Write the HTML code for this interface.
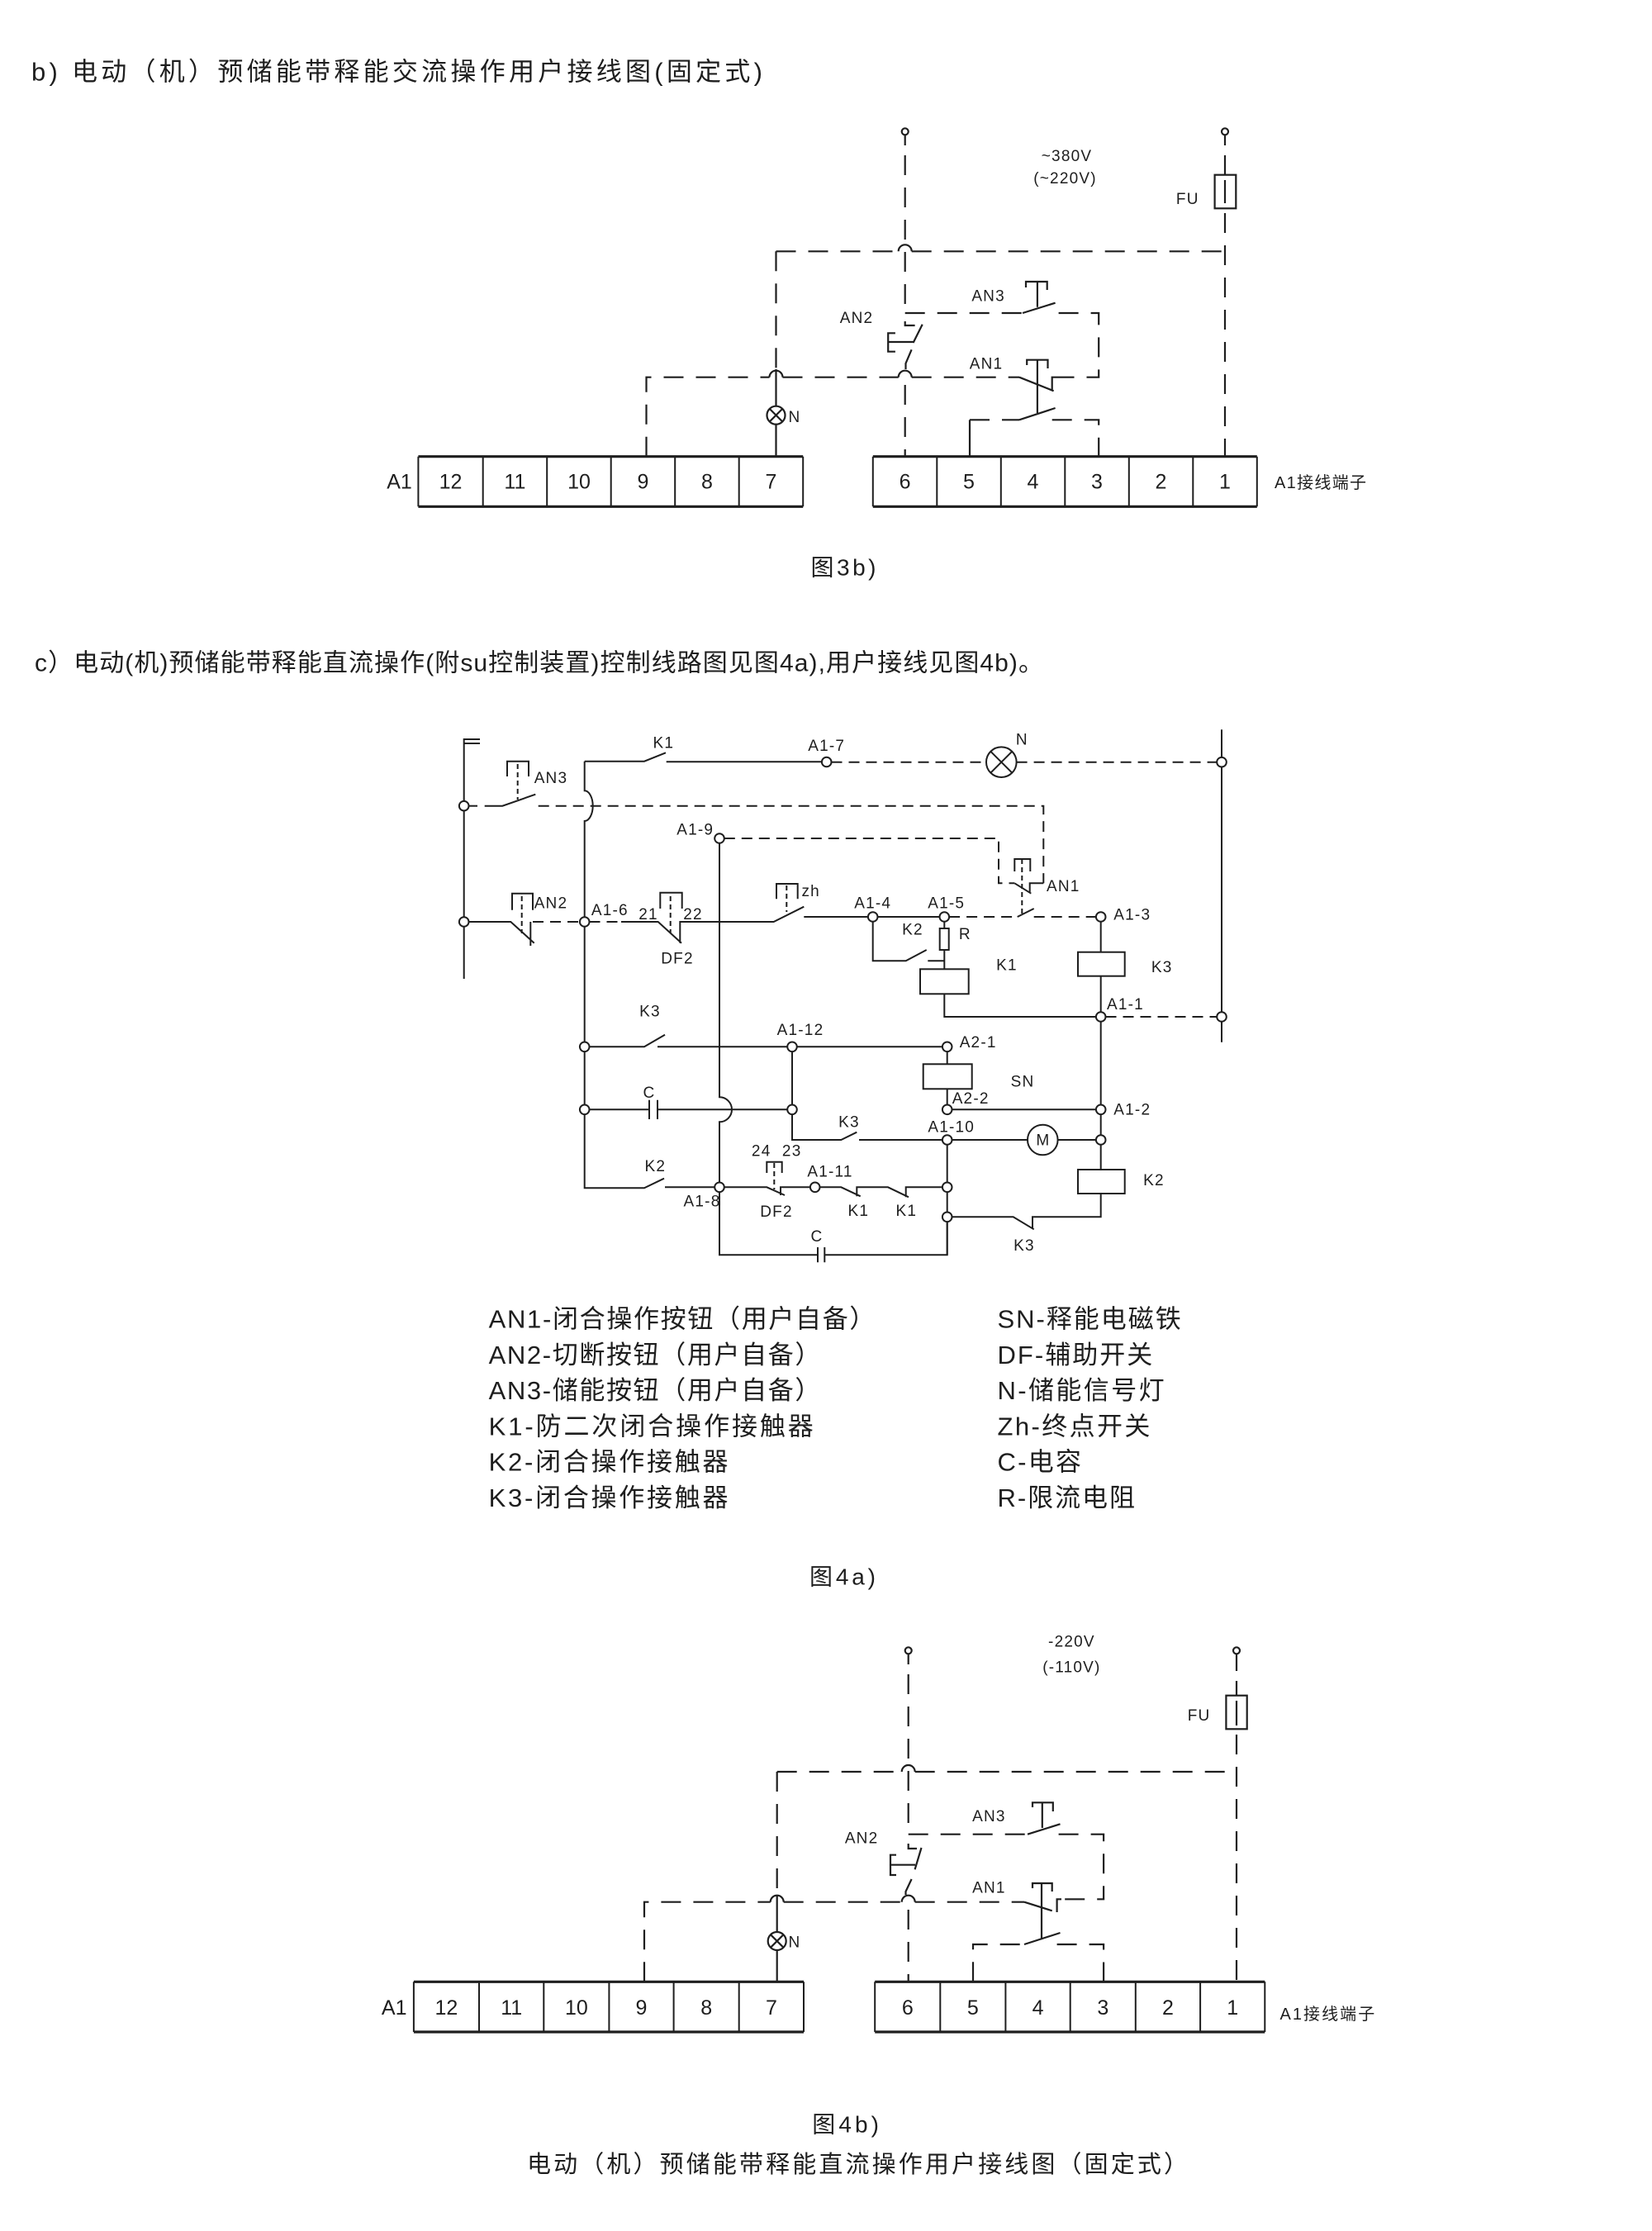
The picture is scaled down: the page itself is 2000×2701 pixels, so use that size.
<!DOCTYPE html>
<html><head><meta charset="utf-8">
<style>
html,body{margin:0;padding:0;background:#fff}
svg{display:block}
text{font-family:"Liberation Sans","Noto Sans CJK SC",sans-serif;fill:#1e1e1e}
.l{stroke:#1e1e1e;stroke-width:2.2;fill:none}
.l4{stroke:#1e1e1e;stroke-width:2;fill:none}
.d1{stroke-dasharray:24 15}
.d2{stroke-dasharray:13 8}
.ds{stroke-dasharray:6 4}
.n{fill:#fff;stroke:#1e1e1e;stroke-width:2}
.tb{stroke:#1e1e1e;stroke-width:3.2;fill:none}
.tv{stroke:#1e1e1e;stroke-width:2;fill:none}
.lab{font-size:19px;letter-spacing:1.2px}
.num{font-size:25px}
</style></head><body>
<svg width="2000" height="2701" viewBox="0 0 2000 2701" xmlns="http://www.w3.org/2000/svg">

<!-- ===== Titles ===== -->
<text x="38" y="87" font-size="31" dominant-baseline="central" textLength="885" lengthAdjust="spacing">b) 电动（机）预储能带释能交流操作用户接线图(固定式)</text>
<text x="42" y="803" font-size="30" dominant-baseline="central" textLength="1221" lengthAdjust="spacing">c）电动(机)预储能带释能直流操作(附su控制装置)控制线路图见图4a),用户接线见图4b)。</text>

<!-- ===== Fig 3b ===== -->
<g class="l">
<circle cx="1095.7" cy="159.3" r="4"/>
<path d="M1095.7 163.3V176"/>
<path class="d1" d="M1095.7 188V379"/>
<path class="d1" d="M1095.7 379H1238"/>
<path d="M1238 379L1277.6 366.7"/>
<path class="d1" d="M1281.6 379H1330.2V456.7H1285"/>
<path d="M1242 348V341H1267.7V351M1255.9 341V371.7"/>
<path d="M1095.7 389V394H1107.6M1116.7 392.7L1105.6 415M1075.2 414H1106M1083.9 403.3H1075.2V425.7H1083.9M1103.6 423.3L1096.5 440V447"/>
<path class="d1" d="M1095.7 466V552.7"/>
<path class="d1" d="M782.5 552.7V456.7H931.5"/>
<path class="d1" d="M947.5 456.7H1087.7"/>
<path class="d1" d="M1103.7 456.7H1234"/>
<path d="M931.5 456.7A8 8 0 0 1 947.5 456.7M1087.7 456.7A8 8 0 0 1 1103.7 456.7"/>
<path d="M1234 456.7L1275.6 473.3M1285 456.7H1273.7V473.3"/>
<path d="M1243.2 442V435.7H1268.5V446M1255.9 435.7V500"/>
<path d="M1174 552.7V508.3"/>
<path class="d1" d="M1174 508.3H1234"/>
<path d="M1234 508.3L1277.6 494"/>
<path class="d1" d="M1273.7 508.3H1330.2V552.7"/>
<path class="d1" d="M939.5 304.3V447"/>
<path d="M939.5 447V491.7"/>
<circle cx="939.5" cy="502.7" r="11"/>
<path d="M931.7 494.9L947.3 510.5M947.3 494.9L931.7 510.5M939.5 513.7V552.7"/>
<path class="d1" d="M939.5 304.3H1087.7"/>
<path d="M1087.7 304.3A8 8 0 0 1 1103.7 304.3"/>
<path class="d1" d="M1103.7 304.3H1483"/>
<circle cx="1483" cy="159.3" r="4"/>
<path d="M1483 163.3V176"/>
<path class="d1" d="M1483 188V211.7"/>
<rect x="1470.6" y="211.7" width="25.7" height="40.6"/>
<path d="M1483 218V246"/>
<path class="d1" d="M1483 258V552.7"/>
</g>
<g>
<text class="lab" x="1291.5" y="189.3" text-anchor="middle" dominant-baseline="central">~380V</text>
<text class="lab" x="1289.5" y="216.7" text-anchor="middle" dominant-baseline="central">(~220V)</text>
<text class="lab" x="1437.8" y="241.7" text-anchor="middle" dominant-baseline="central">FU</text>
<text class="lab" x="1196.6" y="359" text-anchor="middle" dominant-baseline="central">AN3</text>
<text class="lab" x="1037" y="385.7" text-anchor="middle" dominant-baseline="central">AN2</text>
<text class="lab" x="1194" y="441" text-anchor="middle" dominant-baseline="central">AN1</text>
<text class="lab" x="962" y="505.7" text-anchor="middle" dominant-baseline="central">N</text>
</g>
<path class="tb" d="M506.4 552.7H972.2M506.4 613.3H972.2M1056.8 552.7H1521.8M1056.8 613.3H1521.8"/>
<path class="tv" d="M506.4 552.7V613.3M584.7 552.7V613.3M662.2 552.7V613.3M739.7 552.7V613.3M817.2 552.7V613.3M894.7 552.7V613.3M972.2 552.7V613.3M1056.8 552.7V613.3M1134.3 552.7V613.3M1211.8 552.7V613.3M1289.3 552.7V613.3M1366.8 552.7V613.3M1444.3 552.7V613.3M1521.8 552.7V613.3"/>
<g>
<text x="483.5" y="583.3" class="num" text-anchor="middle" dominant-baseline="central">A1</text>
<text x="545.5" y="583.3" class="num" text-anchor="middle" dominant-baseline="central">12</text>
<text x="623.4" y="583.3" class="num" text-anchor="middle" dominant-baseline="central">11</text>
<text x="701" y="583.3" class="num" text-anchor="middle" dominant-baseline="central">10</text>
<text x="778.5" y="583.3" class="num" text-anchor="middle" dominant-baseline="central">9</text>
<text x="856" y="583.3" class="num" text-anchor="middle" dominant-baseline="central">8</text>
<text x="933.5" y="583.3" class="num" text-anchor="middle" dominant-baseline="central">7</text>
<text x="1095.6" y="583.3" class="num" text-anchor="middle" dominant-baseline="central">6</text>
<text x="1173" y="583.3" class="num" text-anchor="middle" dominant-baseline="central">5</text>
<text x="1250.5" y="583.3" class="num" text-anchor="middle" dominant-baseline="central">4</text>
<text x="1328" y="583.3" class="num" text-anchor="middle" dominant-baseline="central">3</text>
<text x="1405.5" y="583.3" class="num" text-anchor="middle" dominant-baseline="central">2</text>
<text x="1483" y="583.3" class="num" text-anchor="middle" dominant-baseline="central">1</text>
</g>
<text x="1543" y="585" font-size="20" dominant-baseline="central" textLength="111" lengthAdjust="spacing">A1接线端子</text>
<text x="1021" y="687" font-size="28" text-anchor="middle" dominant-baseline="central" textLength="79" lengthAdjust="spacing">图3b)</text>

<!-- ===== Fig 4a ===== -->
<g class="l4">
<path d="M561.7 894V1185M561.7 895H581M561.7 900H581"/>
<path class="d2" d="M567.5 975.7H578"/>
<path d="M586.7 975.7H608.3L648.3 961.7"/>
<path d="M614 940V921.7H640V940"/>
<path class="ds" d="M626.7 925V968"/>
<path class="d2" d="M651.7 975.7H1263.3V1069.3"/>
<path d="M1263.3 1069.3H1246.7V1080"/>
<path d="M707.7 921.7H780L806 911.3M806.7 922.3H995"/>
<path d="M707.7 921.7V957.3A10 18.35 0 0 1 707.7 994V1438.3H780L804 1426.7M805 1437.3H865"/>
<path class="d2" d="M1006.5 922.7H1194"/>
<circle cx="1212.3" cy="922.7" r="18.3"/>
<path d="M1199.4 909.8L1225.2 935.6M1225.2 909.8L1199.4 935.6"/>
<path class="d2" d="M1230.6 922.7H1473.2"/>
<path d="M1479 883.3V1261.7"/>
<path class="d2" d="M876.8 1015H1209V1069.3H1228.3"/>
<path d="M1228.3 1069.3L1248.3 1081.7"/>
<path d="M871 1020.8V1328.3A15 15 0 0 1 871 1358.3V1431.5M871 1443V1519.3H990M990 1510V1528.3M998.3 1510V1528.3M998.3 1519.3H1146.7V1479"/>
<path d="M1228.3 1055V1040H1247.3V1055"/>
<path class="ds" d="M1237.3 1040V1108"/>
<path d="M567.5 1116H618.3L646.7 1141.7M642.3 1116V1145"/>
<path class="d2" d="M645 1116H701.9"/>
<path d="M620 1101.7V1081.7H645V1101.7"/>
<path class="ds" d="M631.7 1085V1130"/>
<path class="d2" d="M713.5 1116H752"/>
<path d="M752 1116H796.7L825 1141.7M823.3 1141.7V1116H936.7L973.3 1097.7M973.3 1110H1050.9"/>
<path d="M799.3 1100V1080.7H825.7V1100"/>
<path class="ds" d="M811.7 1085V1130"/>
<path d="M940 1088.3V1070H965.7V1088.3"/>
<path class="ds" d="M952.3 1072V1104"/>
<path d="M1062.5 1110H1137.5"/>
<path class="d2" d="M1149.1 1110H1231.7"/>
<path d="M1231.7 1110L1251.7 1100"/>
<path class="d2" d="M1251.7 1110H1326.9"/>
<path d="M1056.7 1115.8V1163.3H1096.7L1121.7 1150M1123.3 1163.3H1143.3"/>
<path d="M1143.3 1115.8V1124M1143.3 1150V1173.3M1143.3 1203.3V1231H1326.9"/>
<rect x="1137.7" y="1124" width="11" height="26"/>
<rect x="1114" y="1173.3" width="58.7" height="30"/>
<path d="M1332.7 1115.8V1152.7M1332.7 1181.7V1225.2"/>
<rect x="1305" y="1152.7" width="56.7" height="29"/>
<path class="d2" d="M1338.5 1231H1473.2"/>
<path d="M1332.7 1236.8V1337.5M1332.7 1349.1V1374.2M1332.7 1385.8V1416M1332.7 1445V1473.3H1250V1486.7"/>
<rect x="1305" y="1416" width="56.7" height="29"/>
<path d="M713.5 1267.3H780L805 1252.7M796 1267.3H953.2M964.8 1267.3H1140.9"/>
<path d="M1146.7 1273.1V1288.3M1146.7 1318.3V1337.5M1152.5 1343.3H1326.9"/>
<rect x="1117.7" y="1288.3" width="59" height="30"/>
<path d="M713.5 1343.3H786M786 1331.7V1355M796 1331.7V1355M796 1343.3H953.2"/>
<path d="M959 1273.1V1337.5M959 1349.1V1380H1018.3L1037.3 1370.7M1040 1380H1140.9M1152.5 1380H1244M1280.6 1380H1326.9"/>
<circle cx="1262.3" cy="1380" r="18.3"/>
<path d="M1146.7 1385.8V1431.5M1146.7 1443.1V1467.5M1146.7 1479.1V1519.3"/>
<path d="M1152.5 1473.3H1226.7L1251.7 1488.3"/>
<path d="M992.5 1437.3H1018.3L1041.7 1448.3M1037.3 1448.3V1437.3H1075L1100 1449.3M1096.7 1449.3V1437.3H1140.9"/>
<path d="M876.8 1437.3H928.3L950 1447M945 1447V1437.3H980.9"/>
<path d="M928.3 1420V1406.7H946.7V1420"/>
<path class="ds" d="M937.3 1408V1440"/>
</g>
<g>
<circle class="n" cx="561.7" cy="975.7" r="5.8"/>
<circle class="n" cx="561.7" cy="1116" r="5.8"/>
<circle class="n" cx="1000.7" cy="922.5" r="5.8"/>
<circle class="n" cx="1479" cy="922.7" r="5.8"/>
<circle class="n" cx="1479" cy="1231" r="5.8"/>
<circle class="n" cx="871" cy="1015" r="5.8"/>
<circle class="n" cx="707.7" cy="1116" r="5.8"/>
<circle class="n" cx="1056.7" cy="1110" r="5.8"/>
<circle class="n" cx="1143.3" cy="1110" r="5.8"/>
<circle class="n" cx="1332.7" cy="1110" r="5.8"/>
<circle class="n" cx="1332.7" cy="1231" r="5.8"/>
<circle class="n" cx="1332.7" cy="1343.3" r="5.8"/>
<circle class="n" cx="1332.7" cy="1380" r="5.8"/>
<circle class="n" cx="707.7" cy="1267.3" r="5.8"/>
<circle class="n" cx="707.7" cy="1343.3" r="5.8"/>
<circle class="n" cx="959" cy="1267.3" r="5.8"/>
<circle class="n" cx="959" cy="1343.3" r="5.8"/>
<circle class="n" cx="1146.7" cy="1267.3" r="5.8"/>
<circle class="n" cx="1146.7" cy="1343.3" r="5.8"/>
<circle class="n" cx="1146.7" cy="1380" r="5.8"/>
<circle class="n" cx="1146.7" cy="1437.3" r="5.8"/>
<circle class="n" cx="1146.7" cy="1473.3" r="5.8"/>
<circle class="n" cx="871" cy="1437.3" r="5.8"/>
<circle class="n" cx="986.7" cy="1437.3" r="5.8"/>
</g>
<g>
<text class="lab" x="803.3" y="900" text-anchor="middle" dominant-baseline="central">K1</text>
<text class="lab" x="1000.7" y="903.3" text-anchor="middle" dominant-baseline="central">A1-7</text>
<text class="lab" x="1237.3" y="896" text-anchor="middle" dominant-baseline="central">N</text>
<text class="lab" x="646.7" y="942.7" dominant-baseline="central">AN3</text>
<text class="lab" x="841.7" y="1005" text-anchor="middle" dominant-baseline="central">A1-9</text>
<text class="lab" x="981.7" y="1079.3" text-anchor="middle" dominant-baseline="central">zh</text>
<text class="lab" x="646.7" y="1094" dominant-baseline="central">AN2</text>
<text class="lab" x="738.3" y="1102.3" text-anchor="middle" dominant-baseline="central">A1-6</text>
<text class="lab" x="785" y="1107.3" text-anchor="middle" dominant-baseline="central">21</text>
<text class="lab" x="839" y="1107.3" text-anchor="middle" dominant-baseline="central">22</text>
<text class="lab" x="820" y="1161" text-anchor="middle" dominant-baseline="central">DF2</text>
<text class="lab" x="1056.7" y="1094" text-anchor="middle" dominant-baseline="central">A1-4</text>
<text class="lab" x="1145.7" y="1094" text-anchor="middle" dominant-baseline="central">A1-5</text>
<text class="lab" x="1287.3" y="1073.3" text-anchor="middle" dominant-baseline="central">AN1</text>
<text class="lab" x="1348.3" y="1108" dominant-baseline="central">A1-3</text>
<text class="lab" x="1105" y="1126" text-anchor="middle" dominant-baseline="central">K2</text>
<text class="lab" x="1168.3" y="1131.7" text-anchor="middle" dominant-baseline="central">R</text>
<text class="lab" x="1219" y="1169" text-anchor="middle" dominant-baseline="central">K1</text>
<text class="lab" x="1406.7" y="1171.7" text-anchor="middle" dominant-baseline="central">K3</text>
<text class="lab" x="1340" y="1216.7" dominant-baseline="central">A1-1</text>
<text class="lab" x="787" y="1225" text-anchor="middle" dominant-baseline="central">K3</text>
<text class="lab" x="969" y="1247.3" text-anchor="middle" dominant-baseline="central">A1-12</text>
<text class="lab" x="1161.7" y="1262.7" dominant-baseline="central">A2-1</text>
<text class="lab" x="1238" y="1310" text-anchor="middle" dominant-baseline="central">SN</text>
<text class="lab" x="1152.7" y="1330.7" dominant-baseline="central">A2-2</text>
<text class="lab" x="786" y="1323.3" text-anchor="middle" dominant-baseline="central">C</text>
<text class="lab" x="1348.3" y="1344" dominant-baseline="central">A1-2</text>
<text class="lab" x="1028" y="1359" text-anchor="middle" dominant-baseline="central">K3</text>
<text class="lab" x="1151.7" y="1365" text-anchor="middle" dominant-baseline="central">A1-10</text>
<text class="lab" x="1262.3" y="1381" text-anchor="middle" dominant-baseline="central" style="letter-spacing:0">M</text>
<text class="lab" x="921.7" y="1394" text-anchor="middle" dominant-baseline="central">24</text>
<text class="lab" x="958.7" y="1394" text-anchor="middle" dominant-baseline="central">23</text>
<text class="lab" x="1005" y="1419" text-anchor="middle" dominant-baseline="central">A1-11</text>
<text class="lab" x="793.3" y="1412.7" text-anchor="middle" dominant-baseline="central">K2</text>
<text class="lab" x="850" y="1455" text-anchor="middle" dominant-baseline="central">A1-8</text>
<text class="lab" x="1397" y="1429.3" text-anchor="middle" dominant-baseline="central">K2</text>
<text class="lab" x="940" y="1467.7" text-anchor="middle" dominant-baseline="central">DF2</text>
<text class="lab" x="1039.3" y="1466.7" text-anchor="middle" dominant-baseline="central">K1</text>
<text class="lab" x="1097.3" y="1466.7" text-anchor="middle" dominant-baseline="central">K1</text>
<text class="lab" x="989" y="1497.7" text-anchor="middle" dominant-baseline="central">C</text>
<text class="lab" x="1240" y="1508.3" text-anchor="middle" dominant-baseline="central">K3</text>
</g>

<!-- ===== Legend ===== -->
<g font-size="31">
<text x="591.6" y="1597" dominant-baseline="central" textLength="467.8" lengthAdjust="spacing">AN1-闭合操作按钮（用户自备）</text>
<text x="591.6" y="1640.3" dominant-baseline="central" textLength="401.8" lengthAdjust="spacing">AN2-切断按钮（用户自备）</text>
<text x="591.6" y="1683.6" dominant-baseline="central" textLength="401.8" lengthAdjust="spacing">AN3-储能按钮（用户自备）</text>
<text x="591.6" y="1726.9" dominant-baseline="central" textLength="393.2" lengthAdjust="spacing">K1-防二次闭合操作接触器</text>
<text x="591.6" y="1770.2" dominant-baseline="central" textLength="289.9" lengthAdjust="spacing">K2-闭合操作接触器</text>
<text x="591.6" y="1813.5" dominant-baseline="central" textLength="289.9" lengthAdjust="spacing">K3-闭合操作接触器</text>
<text x="1207.5" y="1597" dominant-baseline="central" textLength="222.2" lengthAdjust="spacing">SN-释能电磁铁</text>
<text x="1207.5" y="1640.3" dominant-baseline="central" textLength="187.8" lengthAdjust="spacing">DF-辅助开关</text>
<text x="1207.5" y="1683.6" dominant-baseline="central" textLength="202.1" lengthAdjust="spacing">N-储能信号灯</text>
<text x="1207.5" y="1726.9" dominant-baseline="central" textLength="184.9" lengthAdjust="spacing">Zh-终点开关</text>
<text x="1207.5" y="1770.2" dominant-baseline="central" textLength="101.5" lengthAdjust="spacing">C-电容</text>
<text x="1207.5" y="1813.5" dominant-baseline="central" textLength="166.5" lengthAdjust="spacing">R-限流电阻</text>
</g>
<text x="1020" y="1909" font-size="28" text-anchor="middle" dominant-baseline="central" textLength="80" lengthAdjust="spacing">图4a)</text>

<!-- ===== Fig 4b ===== -->
<g class="l">
<circle cx="1099.7" cy="1998.3" r="4"/>
<path d="M1099.7 2002.3V2015"/>
<path class="d1" d="M1099.7 2027V2220.7"/>
<path class="d1" d="M1099.7 2220.7H1244"/>
<path d="M1244 2220.7L1283.5 2208.3"/>
<path class="d1" d="M1281.6 2220.7H1336.1V2299.3H1285"/>
<path d="M1285 2299.3H1279.6V2315"/>
<path d="M1250 2188V2182.3H1274.8V2193M1261.8 2182.3V2213"/>
<path d="M1099.7 2232V2238H1110M1115.5 2237L1107.6 2263.3M1078 2257.7H1108M1085 2245.7H1078V2270H1085M1103.6 2275L1096.5 2290V2294"/>
<path class="d1" d="M1099.7 2312V2399.3"/>
<path class="d1" d="M780 2399.3V2302.7H932.7"/>
<path class="d1" d="M948.7 2302.7H1091.7"/>
<path class="d1" d="M1107.7 2302.7H1240"/>
<path d="M932.7 2302.7A8 8 0 0 1 948.7 2302.7M1091.7 2302.7A8 8 0 0 1 1107.7 2302.7"/>
<path d="M1240 2302.7L1273.7 2313.3"/>
<path d="M1250 2286V2280H1273.7V2290M1261 2280V2346.7"/>
<path class="d1" d="M1178 2399.3V2354H1240"/>
<path d="M1240 2354L1283.5 2340"/>
<path class="d1" d="M1279.6 2354H1336.1V2399.3"/>
<path class="d1" d="M940.7 2145V2294"/>
<path d="M940.7 2294V2339"/>
<circle cx="940.7" cy="2350" r="11"/>
<path d="M932.9 2342.2L948.5 2357.8M948.5 2342.2L932.9 2357.8M940.7 2361V2399.3"/>
<path class="d1" d="M940.7 2145H1091.7"/>
<path d="M1091.7 2145A8 8 0 0 1 1107.7 2145"/>
<path class="d1" d="M1107.7 2145H1497"/>
<circle cx="1497" cy="1998.3" r="4"/>
<path d="M1497 2002.3V2023"/>
<path class="d1" d="M1497 2035V2052.7"/>
<rect x="1484.4" y="2052.7" width="25.3" height="40.6"/>
<path d="M1497 2059V2089"/>
<path class="d1" d="M1497 2100V2399.3"/>
</g>
<g>
<text class="lab" x="1297.4" y="1988" text-anchor="middle" dominant-baseline="central">-220V</text>
<text class="lab" x="1297.4" y="2019" text-anchor="middle" dominant-baseline="central">(-110V)</text>
<text class="lab" x="1451.6" y="2077.7" text-anchor="middle" dominant-baseline="central">FU</text>
<text class="lab" x="1197.4" y="2199.3" text-anchor="middle" dominant-baseline="central">AN3</text>
<text class="lab" x="1043.1" y="2226" text-anchor="middle" dominant-baseline="central">AN2</text>
<text class="lab" x="1197.4" y="2286" text-anchor="middle" dominant-baseline="central">AN1</text>
<text class="lab" x="962" y="2352" text-anchor="middle" dominant-baseline="central">N</text>
</g>
<path class="tb" d="M500.9 2399.3H973M500.9 2460H973M1059.2 2399.3H1531.3M1059.2 2460H1531.3"/>
<path class="tv" d="M500.9 2399.3V2460M580 2399.3V2460M658.3 2399.3V2460M737.4 2399.3V2460M815.6 2399.3V2460M894.7 2399.3V2460M973 2399.3V2460M1059.2 2399.3V2460M1138.3 2399.3V2460M1217.4 2399.3V2460M1295.7 2399.3V2460M1374.8 2399.3V2460M1453.1 2399.3V2460M1531.3 2399.3V2460"/>
<g>
<text x="477.2" y="2431" class="num" text-anchor="middle" dominant-baseline="central">A1</text>
<text x="540.4" y="2431" class="num" text-anchor="middle" dominant-baseline="central">12</text>
<text x="619.2" y="2431" class="num" text-anchor="middle" dominant-baseline="central">11</text>
<text x="697.9" y="2431" class="num" text-anchor="middle" dominant-baseline="central">10</text>
<text x="776.5" y="2431" class="num" text-anchor="middle" dominant-baseline="central">9</text>
<text x="855.2" y="2431" class="num" text-anchor="middle" dominant-baseline="central">8</text>
<text x="933.9" y="2431" class="num" text-anchor="middle" dominant-baseline="central">7</text>
<text x="1098.8" y="2431" class="num" text-anchor="middle" dominant-baseline="central">6</text>
<text x="1177.8" y="2431" class="num" text-anchor="middle" dominant-baseline="central">5</text>
<text x="1256.6" y="2431" class="num" text-anchor="middle" dominant-baseline="central">4</text>
<text x="1335.3" y="2431" class="num" text-anchor="middle" dominant-baseline="central">3</text>
<text x="1414" y="2431" class="num" text-anchor="middle" dominant-baseline="central">2</text>
<text x="1492.2" y="2431" class="num" text-anchor="middle" dominant-baseline="central">1</text>
</g>
<text x="1549.5" y="2439" font-size="20" dominant-baseline="central" textLength="114.7" lengthAdjust="spacing">A1接线端子</text>
<text x="1023.6" y="2572" font-size="28" text-anchor="middle" dominant-baseline="central" textLength="80.7" lengthAdjust="spacing">图4b)</text>
<text x="638" y="2621" font-size="29" dominant-baseline="central" textLength="800" lengthAdjust="spacing">电动（机）预储能带释能直流操作用户接线图（固定式）</text>

</svg>
</body></html>
